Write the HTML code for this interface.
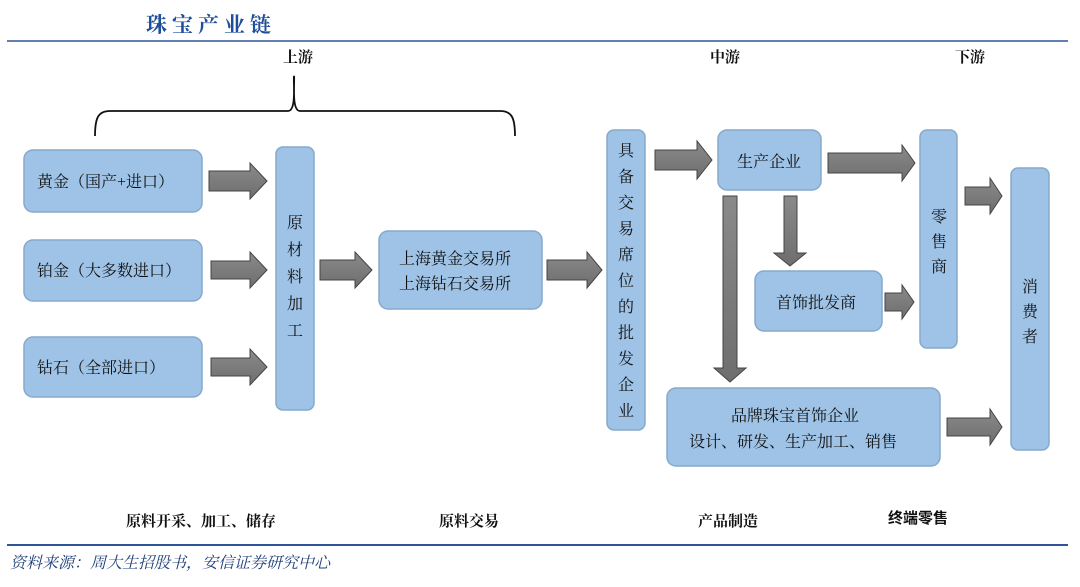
<!DOCTYPE html>
<html><head><meta charset="utf-8"><style>
html,body{margin:0;padding:0;background:#fff;}
body{width:1080px;height:582px;overflow:hidden;}
svg text{font-family:"Liberation Serif","Noto Serif CJK SC",serif;fill:#111;}
</style></head><body>
<svg width="1080" height="582" viewBox="0 0 1080 582" xmlns="http://www.w3.org/2000/svg">
<defs>
<linearGradient id="g" x1="0" y1="0" x2="0" y2="1"><stop offset="0" stop-color="#8a8a8a"/><stop offset="1" stop-color="#6e6e6e"/></linearGradient>
</defs>
<text x="146" y="32" font-size="21" font-weight="bold" style="fill:#1f4e9a" letter-spacing="5">珠宝产业链</text>
<line x1="7" y1="41" x2="1068" y2="41" stroke="#2e5597" stroke-width="1.5"/>
<text x="283" y="62" font-size="15" font-weight="bold">上游</text>
<text x="710" y="62" font-size="15" font-weight="bold">中游</text>
<text x="955" y="62" font-size="15" font-weight="bold">下游</text>
<path d="M95 136 C95 118 98 111 110 111 L288 111 C297 111 293 80 294 76 C295 80 291 111 300 111 L500 111 C512 111 515 118 515 136" fill="none" stroke="#111" stroke-width="1.8"/>
<g fill="#9fc3e6" stroke="#86a9cc" stroke-width="1.5">
<rect x="24" y="150" width="178" height="62" rx="9"/>
<rect x="24" y="240" width="178" height="61" rx="9"/>
<rect x="24" y="337" width="178" height="60" rx="9"/>
<rect x="276" y="147" width="38" height="263" rx="7"/>
<rect x="379" y="231" width="163" height="78" rx="9"/>
<rect x="607" y="130" width="38" height="300" rx="7"/>
<rect x="718" y="130" width="103" height="60" rx="9"/>
<rect x="755" y="271" width="127" height="60" rx="9"/>
<rect x="667" y="388" width="273" height="78" rx="9"/>
<rect x="920" y="130" width="37" height="218" rx="7"/>
<rect x="1011" y="168" width="38" height="282" rx="7"/>
</g>
<g fill="url(#g)" stroke="#444" stroke-width="1">
<path d="M209 171 H250 V163 L267 181 L250 199 V191 H209 Z"/>
<path d="M211 261 H250 V252 L267 270 L250 288 V279 H211 Z"/>
<path d="M211 358 H250 V349 L267 367 L250 385 V376 H211 Z"/>
<path d="M320 260 H355 V252 L372 270 L355 288 V280 H320 Z"/>
<path d="M547 260 H587 V252 L602 270 L587 288 V280 H547 Z"/>
<path d="M655 150 H697 V141 L712 160 L697 179 V170 H655 Z"/>
<path d="M828 153 H902 V145 L915 163 L902 181 V173 H828 Z"/>
<path d="M965 187 H990 V178 L1002 196 L990 214 V205 H965 Z"/>
<path d="M885 293 H902 V285 L914 302 L902 319 V311 H885 Z"/>
<path d="M947 418 H990 V409 L1002 427 L990 445 V436 H947 Z"/>
<path d="M723 196 H737 V368 H746 L730 382 L714 368 H723 Z"/>
<path d="M784 196 H797 V253 H806 L790 266 L774 253 H784 Z"/>
</g>
<g font-size="16">
<text x="37" y="187">黄金（国产+进口）</text>
<text x="37" y="276">铂金（大多数进口）</text>
<text x="37" y="373">钻石（全部进口）</text>
<text x="399" y="264">上海黄金交易所</text>
<text x="399" y="289">上海钻石交易所</text>
<text x="737" y="167">生产企业</text>
<text x="776" y="308">首饰批发商</text>
<text x="731" y="421">品牌珠宝首饰企业</text>
<text x="689" y="447">设计、研发、生产加工、销售</text>
</g>
<g font-size="16" text-anchor="middle">
<text x="295" y="228">原</text><text x="295" y="255">材</text><text x="295" y="282">料</text><text x="295" y="309">加</text><text x="295" y="336">工</text>
<text x="626" y="156">具</text><text x="626" y="182">备</text><text x="626" y="208">交</text><text x="626" y="234">易</text><text x="626" y="260">席</text><text x="626" y="286">位</text><text x="626" y="312">的</text><text x="626" y="338">批</text><text x="626" y="364">发</text><text x="626" y="390">企</text><text x="626" y="416">业</text>
<text x="939" y="222">零</text><text x="939" y="247">售</text><text x="939" y="272">商</text>
<text x="1030" y="292">消</text><text x="1030" y="317">费</text><text x="1030" y="342">者</text>
</g>
<g font-size="15" font-weight="bold" text-anchor="middle">
<text x="201" y="526">原料开采、加工、储存</text>
<text x="469" y="526">原料交易</text>
<text x="728" y="526">产品制造</text>
<text x="918" y="523" style="font-family:'Liberation Sans','Noto Sans CJK SC',sans-serif">终端零售</text>
</g>
<line x1="7" y1="545" x2="1068" y2="545" stroke="#2e5597" stroke-width="2"/>
<text x="10" y="568" font-size="16" font-style="italic" style="fill:#1f3f7a">资料来源：周大生招股书，安信证券研究中心</text>
</svg>
</body></html>
